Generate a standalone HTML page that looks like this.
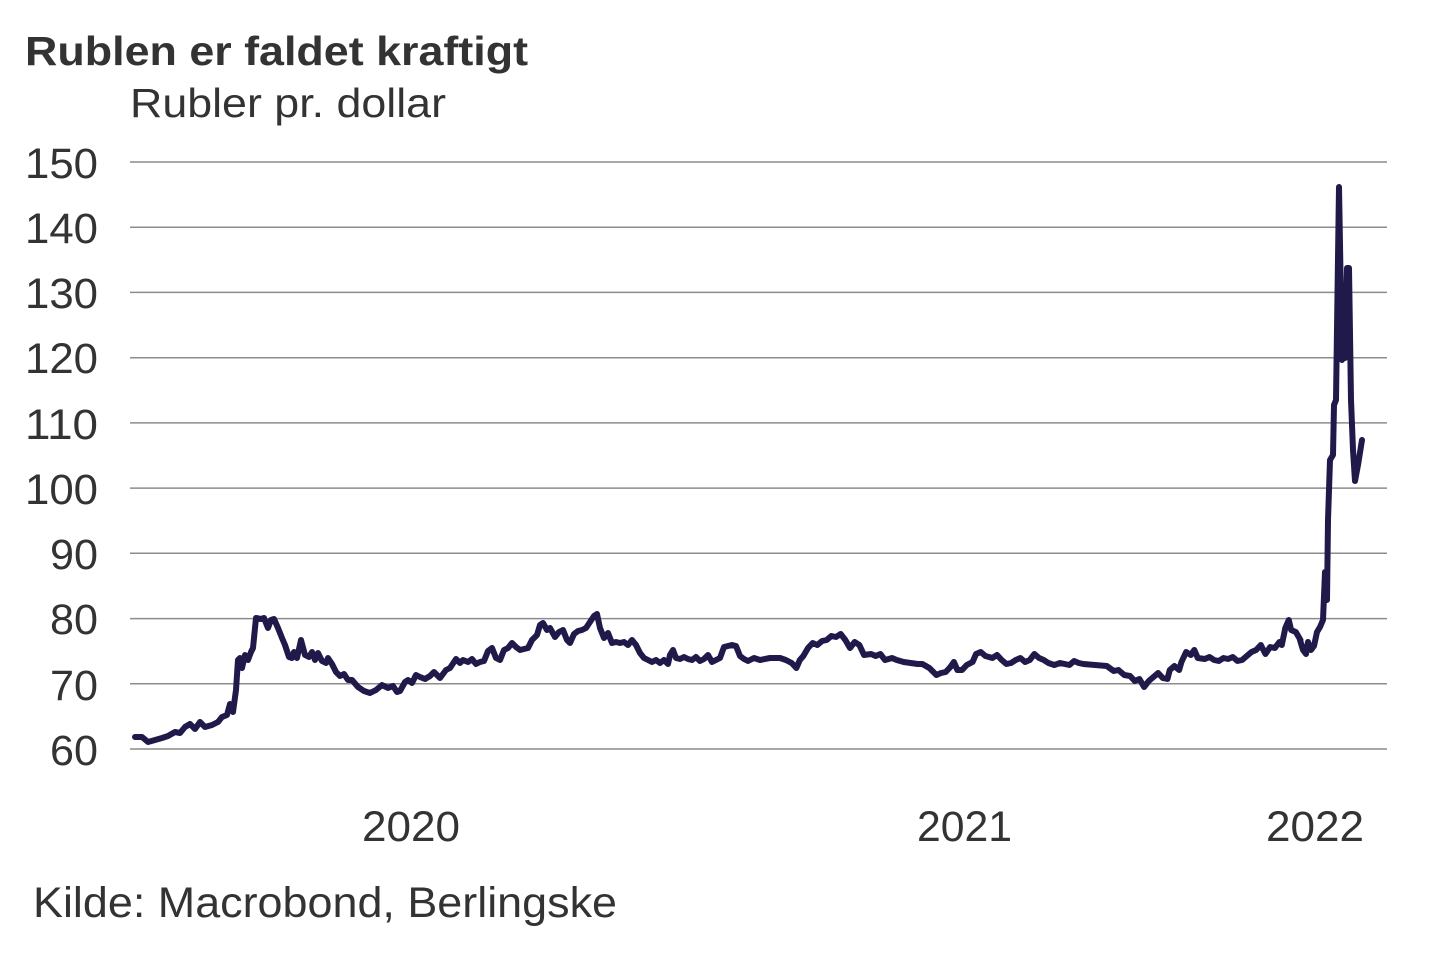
<!DOCTYPE html>
<html><head><meta charset="utf-8"><style>
html,body{margin:0;padding:0;background:#fff}
svg{display:block}
text{font-family:"Liberation Sans",Arial,sans-serif;fill:#333}
</style></head><body>
<svg width="1440" height="960" viewBox="0 0 1440 960">
<text x="25" y="65" font-size="41" font-weight="bold" fill="#3a3a3a" textLength="503" lengthAdjust="spacingAndGlyphs">Rublen er faldet kraftigt</text>
<text x="130" y="117" font-size="41" textLength="316" lengthAdjust="spacingAndGlyphs">Rubler pr. dollar</text>
<g stroke="#8c8c8c" stroke-width="1.5">
<line x1="130" x2="1387" y1="162" y2="162"/><line x1="130" x2="1387" y1="227.2" y2="227.2"/>
<line x1="130" x2="1387" y1="292.4" y2="292.4"/><line x1="130" x2="1387" y1="357.7" y2="357.7"/>
<line x1="130" x2="1387" y1="422.9" y2="422.9"/><line x1="130" x2="1387" y1="488.1" y2="488.1"/>
<line x1="130" x2="1387" y1="553.3" y2="553.3"/><line x1="130" x2="1387" y1="618.6" y2="618.6"/>
<line x1="130" x2="1387" y1="683.8" y2="683.8"/><line x1="130" x2="1387" y1="749" y2="749"/>
</g>
<g font-size="43">
<text x="25" y="178" textLength="73" lengthAdjust="spacingAndGlyphs">150</text>
<text x="25" y="243" textLength="73" lengthAdjust="spacingAndGlyphs">140</text>
<text x="25" y="308" textLength="73" lengthAdjust="spacingAndGlyphs">130</text>
<text x="25" y="373" textLength="73" lengthAdjust="spacingAndGlyphs">120</text>
<text x="25" y="439" textLength="73" lengthAdjust="spacingAndGlyphs">110</text>
<text x="25" y="504" textLength="73" lengthAdjust="spacingAndGlyphs">100</text>
<text x="50" y="569" textLength="48" lengthAdjust="spacingAndGlyphs">90</text>
<text x="50" y="634" textLength="48" lengthAdjust="spacingAndGlyphs">80</text>
<text x="50" y="700" textLength="48" lengthAdjust="spacingAndGlyphs">70</text>
<text x="50" y="765" textLength="48" lengthAdjust="spacingAndGlyphs">60</text>
<text x="362" y="841" textLength="98" lengthAdjust="spacingAndGlyphs">2020</text>
<text x="917" y="841" textLength="95" lengthAdjust="spacingAndGlyphs">2021</text>
<text x="1266" y="841" textLength="98" lengthAdjust="spacingAndGlyphs">2022</text>
<text x="33" y="917" textLength="584" lengthAdjust="spacingAndGlyphs">Kilde: Macrobond, Berlingske</text>
</g>
<g fill="none" stroke="#1f1a4a" stroke-width="6" stroke-linejoin="round" stroke-linecap="round">
<polyline points="135,737 142,737 148,742 155,740 162,738 168,736 175,732 180,733 185,727 190,724 195,729 200,722 205,727 212,725 218,722 222,717 227,715 230,704 233,712 236,690 238,660 240,658 242,668 245,655 248,660 251,652 253,648 256,618 261,619 264,618 268,628 271,620 274,619 278,628 282,638 285,645 289,657 292,658 294,652 297,658 301,640 305,655 309,657 312,652 315,660 318,653 322,661 326,663 328,658 332,664 336,672 340,676 344,674 348,680 352,680 358,687 364,691 370,693 376,690 382,685 388,688 393,686 397,692 400,691 405,682 408,680 412,683 416,675 420,677 425,679 430,676 434,672 436,674 440,678 446,670 450,668 456,659 460,663 463,660 468,662 472,659 476,664 480,662 484,661 488,651 492,648 496,658 500,660 504,650 508,648 512,643 516,647 520,650 524,649 528,648 532,640 537,635 540,625 543,623 547,630 550,628 555,637 559,632 563,630 567,640 570,643 574,634 578,631 582,630 586,628 590,622 594,616 597,614 600,628 604,638 608,633 612,643 616,642 620,643 624,642 628,645 632,640 636,645 640,653 644,658 648,660 652,662 656,660 660,663 664,660 668,664 670,655 673,650 676,658 680,659 684,657 688,659 692,660 696,657 700,661 704,659 708,655 712,662 716,660 720,658 724,647 728,646 732,645 736,646 740,656 744,659 748,661 754,658 760,660 770,658 780,658"/>
<g transform="translate(780,0) scale(1.167,1) translate(-780,0)">
<polyline vector-effect="non-scaling-stroke" points="780,658 785,660 790,663 794,668 797,660 800,656 804,648 808,643 812,645 816,641 820,640 824,636 828,637 832,634 836,640 840,648 844,642 848,645 852,655 858,654 862,656 866,654 870,660 876,658 880,660 886,662 892,663 898,664 902,664 908,668 914,675 918,673 922,672 926,667 929,662 932,670 936,670 940,665 945,662 948,654 952,652 956,656 962,658 966,655 970,660 974,664 978,663 982,660 986,658 990,662 994,660 998,654 1002,658 1006,660 1010,663 1015,665 1020,663 1024,664 1028,665 1032,661 1036,663 1040,664 1050,665 1060,666 1066,671 1070,670 1075,675 1080,676 1084,681 1088,679 1092,687 1096,681 1100,677 1104,673 1108,678 1112,679 1114,670 1118,666 1122,670 1124,662 1128,652 1132,655 1135,650 1138,658 1144,659 1148,657 1152,660 1156,661 1160,658 1164,659 1168,657 1172,661 1176,660 1180,656 1184,652 1188,650 1192,645 1196,654 1200,647 1204,648 1208,642 1210,645 1213,628 1216,620 1218,630 1222,632 1226,640"/>
</g>
<polyline points="1300,640 1303,650 1306,654 1308,642 1311,650 1314,646 1317,632 1320,627 1323,620 1325,572 1327,600 1328,520 1330,460 1333,455 1334,405 1336,400 1339,187 1342,360 1344,300 1345,358 1347,268 1349,268 1351,400 1353,450 1355,481 1358,465 1362,440"/>
</g>
</svg>
</body></html>
